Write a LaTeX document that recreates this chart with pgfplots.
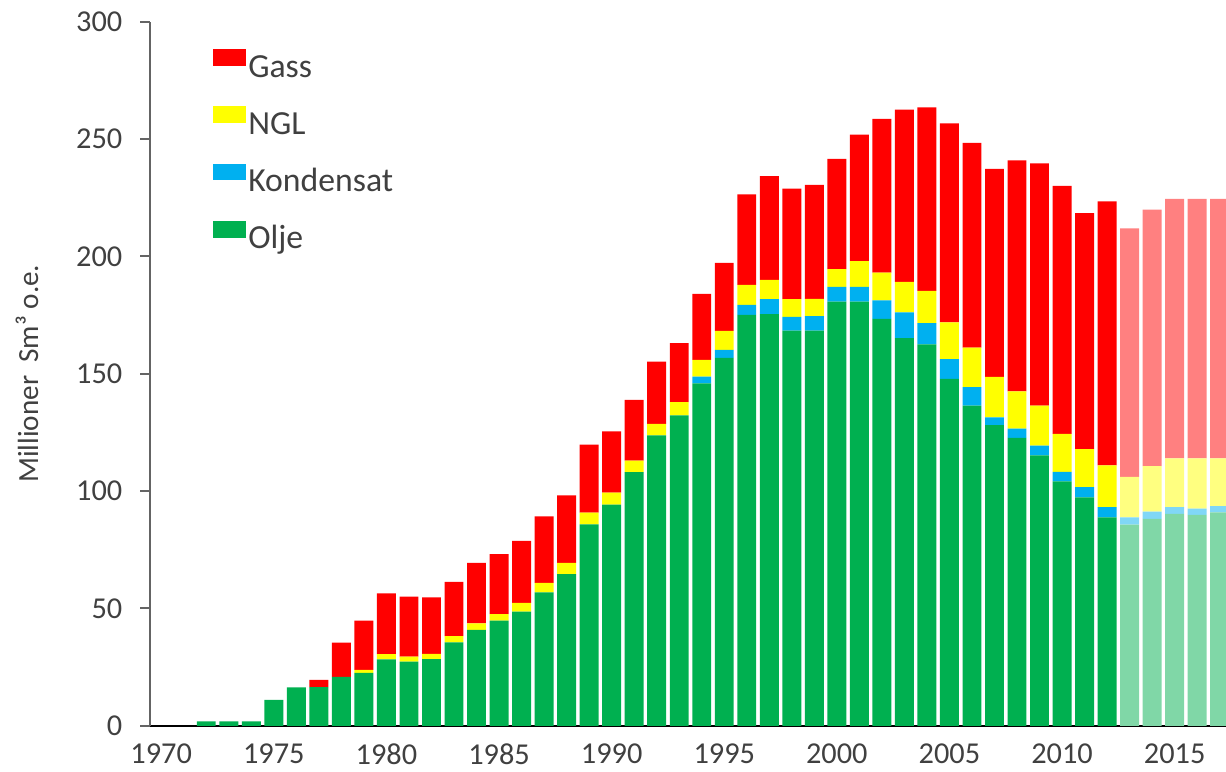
\documentclass[border=0pt]{standalone}
\usepackage{fontspec}
\setmainfont{Carlito}
\usepackage{pgfplots}
\pgfplotsset{compat=1.18}
\usepackage{pgfplotstable}
\usetikzlibrary{calc}

\definecolor{olje}{RGB}{0,176,80}
\definecolor{kond}{RGB}{0,176,240}
\definecolor{ngl}{RGB}{255,255,0}
\definecolor{gass}{RGB}{255,0,0}
\definecolor{oljeF}{RGB}{128,215,167}
\definecolor{kondF}{RGB}{128,215,247}
\definecolor{nglF}{RGB}{255,255,128}
\definecolor{gassF}{RGB}{255,128,128}
\definecolor{txt}{RGB}{64,64,64}
\definecolor{axgray}{RGB}{100,100,100}

% Mill. Sm3 o.e. per year; *F columns = forecast (2013-)
\pgfplotstableread{
year olje kond ngl gass oljeF kondF nglF gassF
1971 0 0 0 0 0 0 0 0
1972 1.9 0 0 0 0 0 0 0
1973 1.9 0 0 0 0 0 0 0
1974 1.9 0 0 0 0 0 0 0
1975 11.0 0 0 0 0 0 0 0
1976 16.3 0 0 0 0 0 0 0
1977 16.5 0 0 3.0 0 0 0 0
1978 20.8 0 0 14.6 0 0 0 0
1979 22.5 0 1.3 21.0 0 0 0 0
1980 28.3 0 2.2 25.9 0 0 0 0
1981 27.3 0 2.2 25.5 0 0 0 0
1982 28.4 0 2.2 24.1 0 0 0 0
1983 35.5 0 2.7 23.1 0 0 0 0
1984 40.8 0 2.8 25.8 0 0 0 0
1985 44.8 0 2.8 25.5 0 0 0 0
1986 48.6 0 3.8 26.4 0 0 0 0
1987 56.8 0 4.1 28.3 0 0 0 0
1988 64.6 0 4.8 28.8 0 0 0 0
1989 85.8 0 5.0 29.0 0 0 0 0
1990 94.2 0 5.1 26.1 0 0 0 0
1991 108.1 0 4.9 25.8 0 0 0 0
1992 123.7 0 4.9 26.5 0 0 0 0
1993 132.2 0 5.7 25.1 0 0 0 0
1994 145.9 2.8 7.2 28.1 0 0 0 0
1995 156.7 3.4 8.1 29.0 0 0 0 0
1996 175.1 4.2 8.5 38.6 0 0 0 0
1997 175.4 6.4 8.2 44.2 0 0 0 0
1998 168.3 5.9 7.6 47.0 0 0 0 0
1999 168.3 6.2 7.4 48.5 0 0 0 0
2000 180.7 6.3 7.5 47.0 0 0 0 0
2001 180.7 6.3 11.0 53.9 0 0 0 0
2002 173.3 7.9 11.9 65.5 0 0 0 0
2003 165.1 11.0 13.0 73.4 0 0 0 0
2004 162.5 9.0 13.8 78.2 0 0 0 0
2005 147.8 8.4 15.7 84.7 0 0 0 0
2006 136.4 7.9 16.8 87.2 0 0 0 0
2007 128.1 3.3 17.2 88.7 0 0 0 0
2008 122.6 4.0 15.9 98.4 0 0 0 0
2009 115.2 4.2 17.0 103.2 0 0 0 0
2010 104.1 4.1 16.2 105.6 0 0 0 0
2011 97.3 4.4 16.2 100.5 0 0 0 0
2012 88.8 4.3 17.8 112.5 0 0 0 0
2013 0 0 0 0 85.7 3.1 17.2 105.9
2014 0 0 0 0 88.1 3.1 19.4 109.3
2015 0 0 0 0 90.3 2.8 20.8 110.6
2016 0 0 0 0 89.8 2.7 21.4 110.6
2017 0 0 0 0 90.9 2.7 20.3 110.6
}\prodtab

\begin{document}
\begin{tikzpicture}
  \begin{axis}[
      scale only axis,
      width=383.1pt, height=250.7pt,
      ybar stacked, bar width=0.84,
      xmin=1969.5, xmax=2017.28,
      ymin=0, ymax=300,
      xtick={1970,1975,...,2015},
      ytick={0,50,...,300},
      /pgf/number format/1000 sep={},
      /pgf/number format/assume math mode=true,
      tick label style={font=\fontsize{10.8}{13}\selectfont, text=txt},
      xticklabel shift=-0.5pt,
      yticklabel shift=2.8pt,
      tick align=outside, major tick length=3.5pt,
      x tick style={draw=none},
      y tick style={axgray, line width=0.7pt},
      axis x line*=bottom, axis y line*=left,
      x axis line style={black, line width=0.8pt, -},
      y axis line style={axgray, line width=0.7pt, -},
      every axis y label/.style={at={(rel axis cs:-0.1143,0.5)}, rotate=90, anchor=center,
        font=\fontsize{10.4}{12}\selectfont, text=txt},
      ylabel={Millioner\ \ Sm³ o.e.},
      reverse legend,
      legend cell align=left,
      legend image code/.code={\fill[#1] (0pt,0.9pt) rectangle (11.7pt,6.9pt);},
      legend style={at={(rel axis cs:0.0582,0.962)}, anchor=north west,
        draw=none, fill=none, inner sep=0pt, row sep=7.2pt,
        font=\fontsize{12}{14}\selectfont, text=txt,
        nodes={inner sep=0.8pt, text height=8.6pt, text depth=2.4pt}},
    ]
    \addplot[fill=olje, draw=none] table[x=year, y=olje] {\prodtab};
    \addplot[fill=kond, draw=none] table[x=year, y=kond] {\prodtab};
    \addplot[fill=ngl, draw=none] table[x=year, y=ngl] {\prodtab};
    \addplot[fill=gass, draw=none] table[x=year, y=gass] {\prodtab};
    \addplot[fill=oljeF, draw=none, forget plot] table[x=year, y=oljeF] {\prodtab};
    \addplot[fill=kondF, draw=none, forget plot] table[x=year, y=kondF] {\prodtab};
    \addplot[fill=nglF, draw=none, forget plot] table[x=year, y=nglF] {\prodtab};
    \addplot[fill=gassF, draw=none, forget plot] table[x=year, y=gassF] {\prodtab};
    \legend{Olje, Kondensat, NGL, Gass}
  \end{axis}
  \pgfresetboundingbox
  \path[use as bounding box] ($(current axis.south west)+(-53.4pt,-16.2pt)$)
    rectangle ($(current axis.north east)+(0pt,7.7pt)$);
\end{tikzpicture}
\end{document}
